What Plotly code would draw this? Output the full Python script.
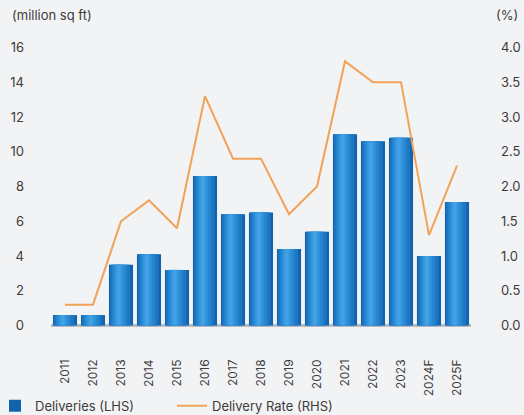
import plotly.graph_objects as go

years = ["2011", "2012", "2013", "2014", "2015", "2016", "2017", "2018",
         "2019", "2020", "2021", "2022", "2023", "2024F", "2025F"]
deliveries = [0.6, 0.6, 3.5, 4.1, 3.2, 8.6, 6.4, 6.5, 4.4, 5.4, 11.0, 10.6, 10.8, 4.0, 7.1]
delivery_rate = [0.3, 0.3, 1.5, 1.8, 1.4, 3.3, 2.4, 2.4, 1.6, 2.0, 3.8, 3.5, 3.5, 1.3, 2.3]
left_ticks = [0, 2, 4, 6, 8, 10, 12, 14, 16]
right_ticks = [0.0, 0.5, 1.0, 1.5, 2.0, 2.5, 3.0, 3.5, 4.0]

fig = go.Figure()

# cylinder-like bars built from overlaid layers
layers = [
    (0.86, -0.43, "#1263ad", True),
    (0.72, -0.39, "#1c76c1", False),
    (0.52, -0.31, "#2786d0", False),
    (0.32, -0.23, "#3595dc", False),
    (0.14, -0.15, "#42a0e4", False),
]
for w, off, col, show in layers:
    fig.add_trace(go.Bar(
        x=years, y=deliveries, width=w, offset=off,
        marker=dict(color=col, line=dict(width=0)),
        name="Deliveries (LHS)", showlegend=show, legendrank=1,
        hoverinfo=None if show else "skip",
    ))

fig.add_trace(go.Scatter(
    x=years, y=delivery_rate, mode="lines", yaxis="y2",
    line=dict(color="#f2a257", width=2),
    name="Delivery Rate (RHS)", legendrank=2,
))

font_col = "#3c3c3c"
fig.update_layout(
    width=524, height=415,
    margin=dict(l=51, r=53, t=37, b=86, autoexpand=False),
    paper_bgcolor="#f2f3f5", plot_bgcolor="rgba(0,0,0,0)",
    barmode="overlay",
    font=dict(family="Inter, Roboto, sans-serif", size=13, color=font_col),
    xaxis=dict(type="category", showgrid=False, tickangle=-90, automargin=False,
               ticks="", ticklabelstandoff=27,
               tickfont=dict(size=12, color=font_col), showline=False),
    yaxis=dict(range=[-0.2, 16.6], tickvals=left_ticks, showgrid=False,
               automargin=False,
               zeroline=True, zerolinecolor="#b6b9be", zerolinewidth=3,
               ticks="", ticklabelstandoff=26, showline=False),
    yaxis2=dict(range=[-0.05, 4.15], tickvals=right_ticks, tickformat=".1f",
                overlaying="y", side="right", showgrid=False, zeroline=False,
                automargin=False,
                ticks="", ticklabelstandoff=29, showline=False),
    showlegend=True,
    legend=dict(orientation="h", xref="container", yref="container",
                x=0, y=0.022, xanchor="left", yanchor="middle",
                indentation=-5,
                bgcolor="rgba(0,0,0,0)", entrywidth=137,
                font=dict(size=13, color=font_col)),
    annotations=[
        dict(text="(million sq ft)", xref="paper", yref="paper",
             x=-0.098, y=1.0, xanchor="left", yanchor="bottom",
             yshift=12, showarrow=False, font=dict(size=13, color=font_col)),
        dict(text="(%)", xref="paper", yref="paper",
             x=1.117, y=1.0, xanchor="right", yanchor="bottom",
             yshift=12, showarrow=False, font=dict(size=13, color=font_col)),
    ],
)

fig.write_html("out.html", config={"displayModeBar": False},
               post_script="document.body.style.margin='0';")
